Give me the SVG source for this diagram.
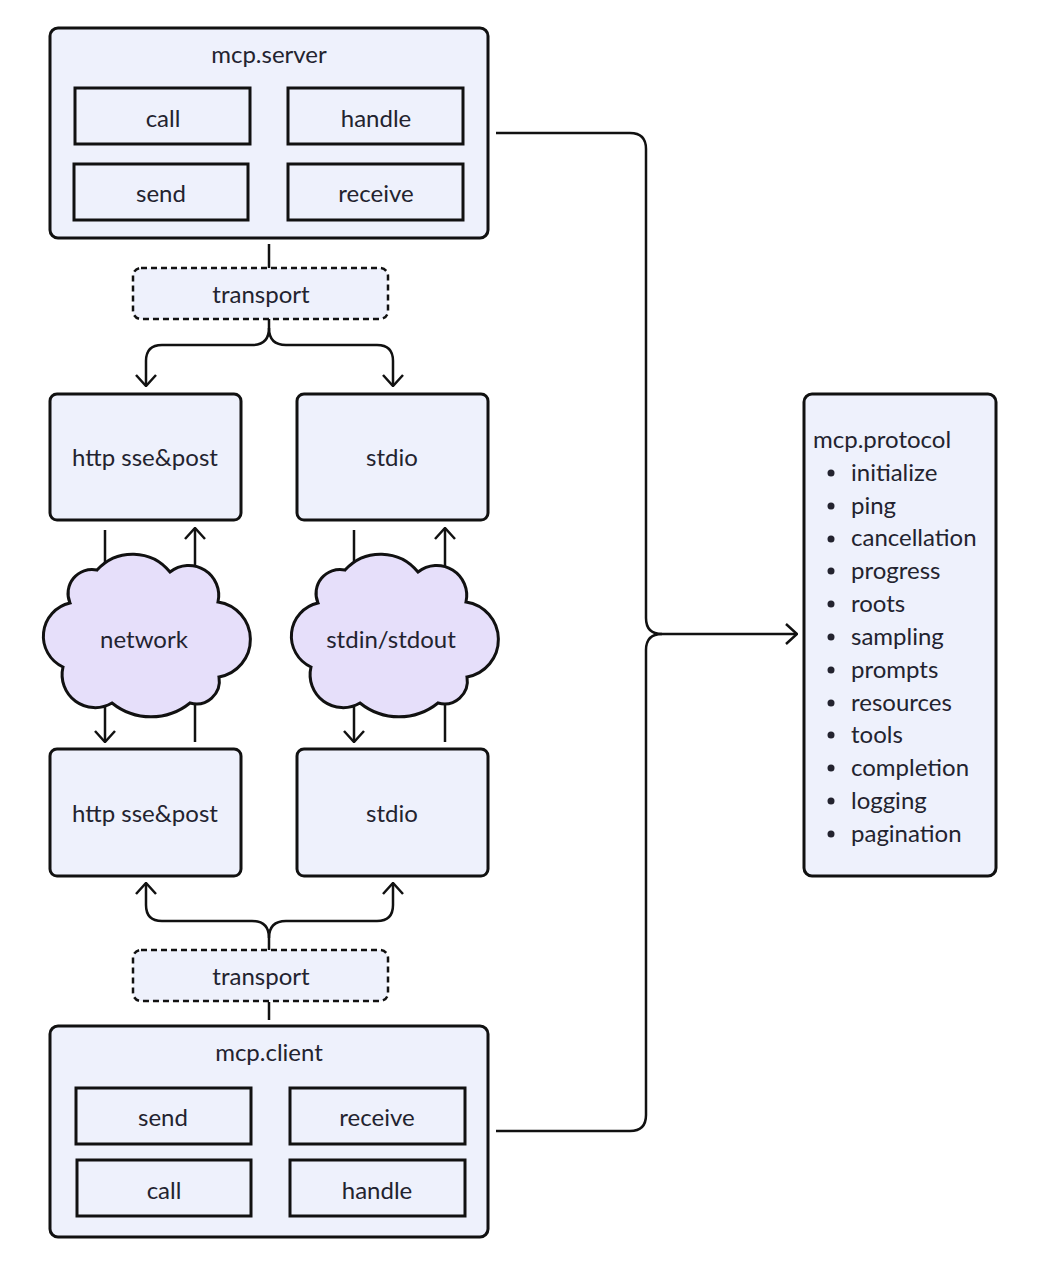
<svg xmlns="http://www.w3.org/2000/svg" width="1037" height="1280" viewBox="0 0 1037 1280">
<style>
  .box{fill:#eef1fc;stroke:#111;stroke-width:3}
  .inner{fill:#eef1fc;stroke:#111;stroke-width:3}
  .dash{fill:#eef1fc;stroke:#111;stroke-width:2.5;stroke-dasharray:6 4}
  .cloud{fill:#e6dffa;stroke:#111;stroke-width:3}
  .t{font-family:Lato,"Noto Sans",sans-serif;font-size:24px;fill:#23232f}
  .c{text-anchor:middle}
  .ln{fill:none;stroke:#111;stroke-width:2.5}
  .arr{marker-end:url(#ah)}
</style>
<defs>
  <marker id="ah" viewBox="0 0 13 22" refX="12" refY="11" markerWidth="13" markerHeight="22" markerUnits="userSpaceOnUse" orient="auto">
    <path d="M1,1 L12,11 L1,21" fill="none" stroke="#111" stroke-width="2.5"/>
  </marker>
  <path id="cloudShape" d="M70,603 A24,24 0 0 1 97,570 A48,48 0 0 1 170,572 A30,30 0 0 1 218,602 A38,38 0 0 1 219,677 A23,23 0 0 1 190,703 A62,62 0 0 1 112,703 A33,33 0 0 1 63,667 A34,34 0 0 1 70,603 Z"/>
</defs>
<rect width="1037" height="1280" fill="#fff"/>

<g id="connectors">
  <line class="ln" x1="269" y1="244" x2="269" y2="268"/>
  <path class="ln arr" d="M269,319 L269,328 Q269,345 252,345 L162,345 Q146,345 146,361 L146,386"/>
  <path class="ln arr" d="M269,328 Q269,345 286,345 L377,345 Q393,345 393,361 L393,386"/>
  <line class="ln" x1="105" y1="530" x2="105" y2="600"/>
  <line class="ln arr" x1="195" y1="600" x2="195" y2="528"/>
  <line class="ln" x1="354" y1="530" x2="354" y2="600"/>
  <line class="ln arr" x1="445" y1="600" x2="445" y2="528"/>
  <line class="ln arr" x1="105" y1="680" x2="105" y2="742"/>
  <line class="ln" x1="195" y1="680" x2="195" y2="742"/>
  <line class="ln arr" x1="354" y1="680" x2="354" y2="742"/>
  <line class="ln" x1="445" y1="680" x2="445" y2="742"/>
  <path class="ln arr" d="M269,950 L269,938 Q269,921 252,921 L162,921 Q146,921 146,905 L146,883"/>
  <path class="ln arr" d="M269,938 Q269,921 286,921 L377,921 Q393,921 393,905 L393,883"/>
  <line class="ln" x1="269" y1="1002" x2="269" y2="1020"/>
  <path class="ln" d="M496,133 L630,133 Q646,133 646,149 L646,618 Q646,634 662,634"/>
  <path class="ln arr" d="M496,1131 L630,1131 Q646,1131 646,1115 L646,650 Q646,634 662,634 L797,634"/>
</g>

<g id="mcp-server">
  <rect class="box" x="50" y="28" width="438" height="210" rx="8"/>
  <text class="t c" x="269" y="63">mcp.server</text>
  <g id="server-call"><rect class="inner" x="75" y="88" width="175" height="56"/><text class="t c" x="163" y="127">call</text></g>
  <g id="server-handle"><rect class="inner" x="288" y="88" width="175" height="56"/><text class="t c" x="376" y="127">handle</text></g>
  <g id="server-send"><rect class="inner" x="74" y="164" width="174" height="56"/><text class="t c" x="161" y="202">send</text></g>
  <g id="server-receive"><rect class="inner" x="288" y="164" width="175" height="56"/><text class="t c" x="376" y="202">receive</text></g>
</g>

<g id="transport-top">
  <rect class="dash" x="133" y="268" width="255" height="51" rx="8"/>
  <text class="t c" x="261" y="303">transport</text>
</g>

<g id="http-top">
  <rect class="box" x="50" y="394" width="191" height="126" rx="7"/>
  <text class="t c" x="145" y="466">http sse&amp;post</text>
</g>
<g id="stdio-top">
  <rect class="box" x="297" y="394" width="191" height="126" rx="7"/>
  <text class="t c" x="392" y="466">stdio</text>
</g>

<g id="network">
  <use href="#cloudShape" class="cloud"/>
  <text class="t c" x="144" y="648">network</text>
</g>
<g id="stdin-stdout">
  <use href="#cloudShape" class="cloud" transform="translate(248,0)"/>
  <text class="t c" x="391" y="648">stdin/stdout</text>
</g>

<g id="http-bottom">
  <rect class="box" x="50" y="749" width="191" height="127" rx="7"/>
  <text class="t c" x="145" y="822">http sse&amp;post</text>
</g>
<g id="stdio-bottom">
  <rect class="box" x="297" y="749" width="191" height="127" rx="7"/>
  <text class="t c" x="392" y="822">stdio</text>
</g>

<g id="transport-bottom">
  <rect class="dash" x="133" y="950" width="255" height="51" rx="8"/>
  <text class="t c" x="261" y="985">transport</text>
</g>

<g id="mcp-client">
  <rect class="box" x="50" y="1026" width="438" height="211" rx="8"/>
  <text class="t c" x="269" y="1061">mcp.client</text>
  <g id="client-send"><rect class="inner" x="76" y="1088" width="175" height="56"/><text class="t c" x="163" y="1126">send</text></g>
  <g id="client-receive"><rect class="inner" x="290" y="1088" width="175" height="56"/><text class="t c" x="377" y="1126">receive</text></g>
  <g id="client-call"><rect class="inner" x="77" y="1160" width="174" height="56"/><text class="t c" x="164" y="1199">call</text></g>
  <g id="client-handle"><rect class="inner" x="290" y="1160" width="175" height="56"/><text class="t c" x="377" y="1199">handle</text></g>
</g>

<g id="mcp-protocol">
  <rect class="box" x="804" y="394" width="192" height="482" rx="8"/>
  <text class="t" x="813" y="448">mcp.protocol</text>
  <g fill="#23232f">
    <circle cx="831" cy="473" r="3.5"/><circle cx="831" cy="506" r="3.5"/><circle cx="831" cy="539" r="3.5"/>
    <circle cx="831" cy="571" r="3.5"/><circle cx="831" cy="604" r="3.5"/><circle cx="831" cy="637" r="3.5"/>
    <circle cx="831" cy="670" r="3.5"/><circle cx="831" cy="703" r="3.5"/><circle cx="831" cy="735" r="3.5"/>
    <circle cx="831" cy="768" r="3.5"/><circle cx="831" cy="801" r="3.5"/><circle cx="831" cy="834" r="3.5"/>
  </g>
  <text class="t" x="851" y="481">initialize</text>
  <text class="t" x="851" y="514">ping</text>
  <text class="t" x="851" y="546">cancellation</text>
  <text class="t" x="851" y="579">progress</text>
  <text class="t" x="851" y="612">roots</text>
  <text class="t" x="851" y="645">sampling</text>
  <text class="t" x="851" y="678">prompts</text>
  <text class="t" x="851" y="711">resources</text>
  <text class="t" x="851" y="743">tools</text>
  <text class="t" x="851" y="776">completion</text>
  <text class="t" x="851" y="809">logging</text>
  <text class="t" x="851" y="842">pagination</text>
</g>
</svg>
